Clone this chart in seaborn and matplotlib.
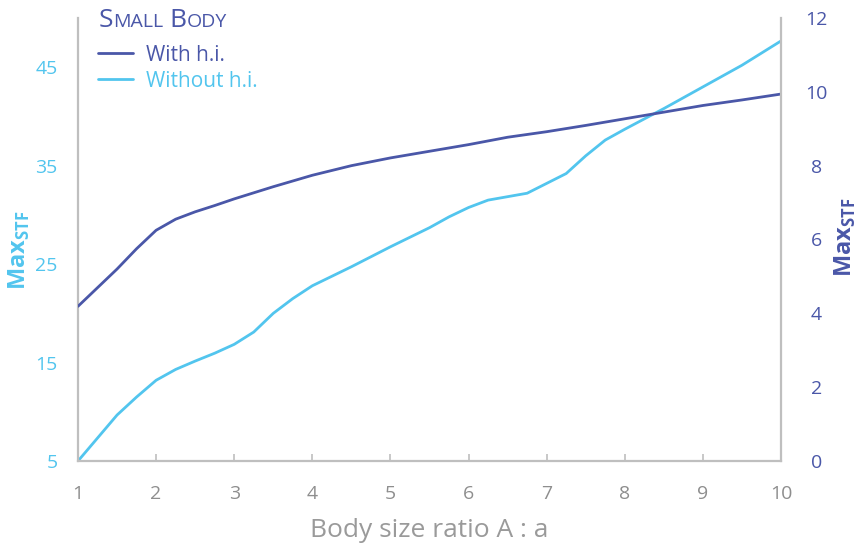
import matplotlib
matplotlib.use('Agg')
import matplotlib.pyplot as plt
import seaborn as sns
import pandas as pd

# valeurs
ratio_with = [1, 1.5, 1.75, 2, 2.25, 2.5, 2.75, 3, 3.5, 4, 4.5, 5, 5.5, 6, 6.5, 7,
              7.5, 8, 8.5, 9, 9.5, 10]
with_hi = [4.19, 5.2, 5.75, 6.25, 6.55, 6.75, 6.92, 7.10, 7.43, 7.74, 8.00, 8.21,
           8.39, 8.57, 8.77, 8.92, 9.09, 9.27, 9.45, 9.63, 9.78, 9.94]
ratio_without = [1, 1.5, 1.75, 2, 2.25, 2.5, 2.75, 3, 3.25, 3.5, 3.75, 4, 4.5, 5, 5.5,
                 5.75, 6, 6.25, 6.5, 6.75, 7, 7.25, 7.5, 7.75, 8, 8.5, 9, 9.5, 10]
without_hi = [5.0, 9.67, 11.5, 13.2, 14.3, 15.15, 15.95, 16.85, 18.1, 20.0, 21.5, 22.8,
              24.73, 26.76, 28.7, 29.8, 30.75, 31.5, 31.85, 32.2, 33.2, 34.2, 36.0,
              37.6, 38.7, 40.8, 43.0, 45.2, 47.67]
x_ticks = [1, 2, 3, 4, 5, 6, 7, 8, 9, 10]
left_ticks = [5, 15, 25, 35, 45]
right_ticks = [0, 2, 4, 6, 8, 10, 12]
legend_labels = ['With h.i.', 'Without h.i.']

dark = '#4a57a8'
light = '#52c5ee'
grey = '#bfbfbf'
tick_grey = '#8e8e8e'

sns.set_theme(style='white')
plt.rcParams['font.family'] = ['Open Sans', 'DejaVu Sans']
plt.rcParams['mathtext.fontset'] = 'custom'
plt.rcParams['mathtext.bf'] = 'Open Sans:bold'
plt.rcParams['mathtext.rm'] = 'Open Sans'

df_with = pd.DataFrame({'ratio': ratio_with, 'val': with_hi})
df_without = pd.DataFrame({'ratio': ratio_without, 'val': without_hi})

W, H = 859, 552
fig = plt.figure(figsize=(W / 100, H / 100), dpi=100)
ax = fig.add_axes([78 / W, 1 - 461 / H, 703 / W, 443 / H])
ax2 = ax.twinx()

sns.lineplot(data=df_without, x='ratio', y='val', ax=ax, color=light, lw=2, legend=False)
sns.lineplot(data=df_with, x='ratio', y='val', ax=ax2, color=dark, lw=2, legend=False)

ax.set_xlim(1, 10)
ax.set_ylim(5, 50)
ax2.set_ylim(0, 12)
ax.set_xticks(x_ticks)
ax.set_yticks(left_ticks)
ax2.set_yticks(right_ticks)

# axes / spines
for s in ['top', 'right']:
    ax.spines[s].set_visible(False)
for s in ['top', 'left', 'bottom']:
    ax2.spines[s].set_visible(False)
for s in [ax.spines['left'], ax.spines['bottom'], ax2.spines['right']]:
    s.set_color(grey)
    s.set_linewidth(1.6)

ax.tick_params(axis='x', bottom=True, direction='in', length=5, width=1.2, color=grey,
               labelcolor=tick_grey, labelsize=14, pad=17)
ax.tick_params(axis='y', left=False, labelcolor=light, labelsize=14, pad=8.6)
ax2.tick_params(axis='y', right=False, labelcolor=dark, labelsize=14, pad=19.5)
for lbl in ax2.get_yticklabels():
    lbl.set_horizontalalignment('center')

ax.set_xlabel('Body size ratio A : a', fontsize=19, color='#9a9a9a', labelpad=11)
ax.set_ylabel(r'$\mathbf{Max}_{\mathbf{STF}}$', fontsize=17, color=light)
ax.yaxis.set_label_coords(-0.0832, 0.475)
ax.yaxis.label.set_verticalalignment('center')
ax2.set_ylabel(r'$\mathbf{Max}_{\mathbf{STF}}$', fontsize=17, color=dark, rotation=90)
ax2.yaxis.set_label_coords(1.091, 0.505)
ax2.yaxis.label.set_verticalalignment('center')

# légende
handles = [ax2.get_lines()[0], ax.get_lines()[0]]
leg = ax2.legend(handles, legend_labels, loc='upper left', bbox_to_anchor=(0.028, 0.94),
                 frameon=False, fontsize=15, handlelength=1.7, handletextpad=0.6,
                 labelspacing=0.25, borderpad=0, borderaxespad=0)
for t, c in zip(leg.get_texts(), [dark, light]):
    t.set_color(c)

# titre en petites capitales
renderer = fig.canvas.get_renderer()
cx = 99
for txt, size, gap in [('S', 19, 0), ('MALL', 14, 6), ('B', 19, 0), ('ODY', 14, 0)]:
    t = fig.text(cx / W, 1 - 27 / H, txt, fontsize=size, color=dark, ha='left', va='baseline')
    cx += t.get_window_extent(renderer).width + gap

plt.savefig('out.png', dpi=100)
